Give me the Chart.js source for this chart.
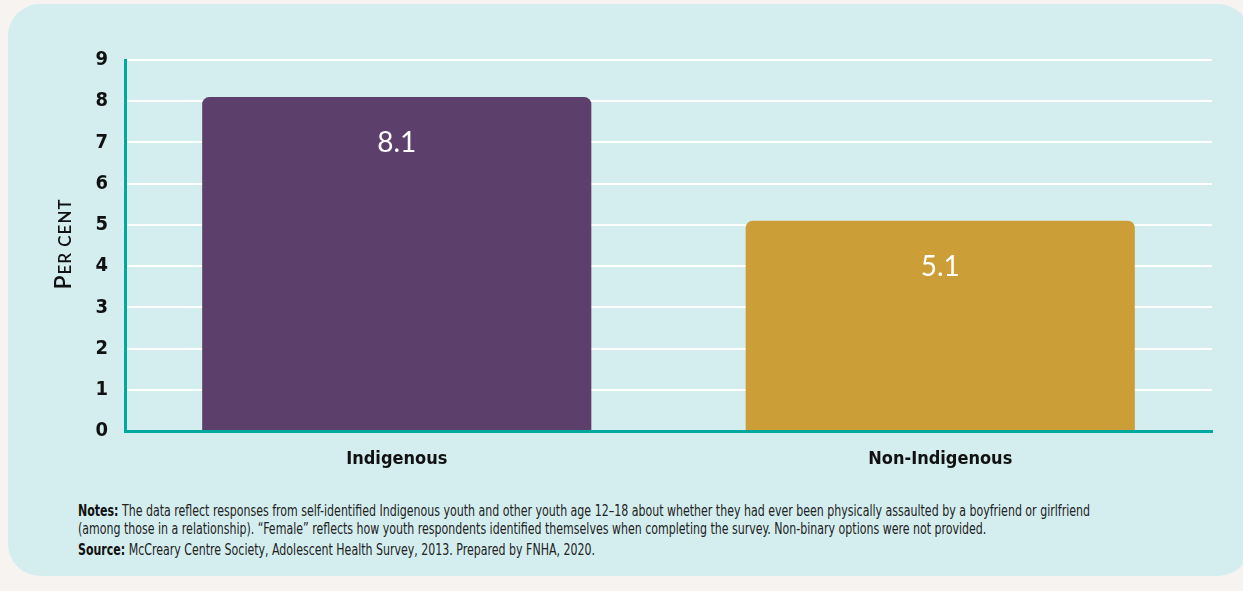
<!DOCTYPE html>
<html>
<head>
<meta charset="utf-8">
<script src="https://cdn.jsdelivr.net/npm/chart.js@4.4.1/dist/chart.umd.min.js"></script>
<style>
	html, body { margin: 0; padding: 0; }
	body { width: 1243px; height: 591px; background: #f7f3f0; position: relative; overflow: hidden; }
	.card { position: absolute; left: 8px; top: 4px; width: 1242px; height: 572px; background: #d4eeef; border-radius: 32px; }
	#chartBox { position: absolute; left: 0; top: 0; width: 1243px; height: 480px; }
	.notes { position: absolute; left: 78px; top: 502px; font-family: "DejaVu Sans Condensed", "Liberation Sans", sans-serif; font-size: 16px; line-height: 18px; color: #222; transform-origin: 0 0; white-space: nowrap; }
	.notes div { margin: 0; }
	.notes .src { margin-top: 3px; }
	.notes b { color: #111; }
</style>
</head>
<body>
<div class="card"></div>
<div id="chartBox"><canvas id="myBarChart" width="1243" height="480"></canvas></div>
<div class="notes" id="notes">
	<div id="line1"><b>Notes:</b> The data reflect responses from self-identified Indigenous youth and other youth age 12–18 about whether they had ever been physically assaulted by a boyfriend or girlfriend</div>
	<div>(among those in a relationship). “Female” reflects how youth respondents identified themselves when completing the survey. Non-binary options were not provided.</div>
	<div class="src"><b>Source:</b> McCreary Centre Society, Adolescent Health Survey, 2013. Prepared by FNHA, 2020.</div>
</div>
<script>
const categories = ['Indigenous', 'Non-Indigenous'];
const values = [8.1, 5.1];
const barColors = ['#5c406b', '#cc9e38'];
const yTicks = [0, 1, 2, 3, 4, 5, 6, 7, 8, 9];
const yTitle = 'Per cent';

const axisFont = "'DejaVu Sans Condensed', 'Liberation Sans', sans-serif";

// squeeze the notes so the first line ends where the reference's does
const notes = document.getElementById('notes');
const line1 = document.getElementById('line1');
const squeeze = 1012 / line1.getBoundingClientRect().width;
notes.style.transform = 'scaleX(' + squeeze + ')';

// draws the value inside each bar, near its top
const valueLabels = {
	id: 'valueLabels',
	afterDatasetsDraw(chart) {
		const ctx = chart.ctx;
		const meta = chart.getDatasetMeta(0);
		ctx.save();
		ctx.fillStyle = '#ffffff';
		ctx.font = "28px Lato, 'Open Sans', sans-serif";
		ctx.textAlign = 'center';
		ctx.textBaseline = 'middle';
		meta.data.forEach((bar, i) => {
			ctx.fillText(values[i].toFixed(1), bar.x, bar.y + 46);
		});
		ctx.restore();
	}
};

// y title in small caps, rotated
const smallCapsTitle = {
	id: 'smallCapsTitle',
	afterDraw(chart) {
		const ctx = chart.ctx;
		const big = "600 23px Lato, 'Open Sans', sans-serif";
		const small = "600 17px Lato, 'Open Sans', sans-serif";
		const parts = [];
		for (const ch of yTitle)
		{
			if (ch === ch.toUpperCase() && ch !== ' ')
				parts.push({ t: ch, f: big });
			else
				parts.push({ t: ch.toUpperCase(), f: small });
		}
		ctx.save();
		let total = 0;
		parts.forEach(p => { ctx.font = p.f; p.w = ctx.measureText(p.t).width + 1; total += p.w; });
		ctx.translate(71, 244);
		ctx.rotate(-Math.PI / 2);
		ctx.fillStyle = '#111111';
		ctx.textBaseline = 'alphabetic';
		ctx.textAlign = 'left';
		let x = -total / 2;
		parts.forEach(p => { ctx.font = p.f; ctx.fillText(p.t, x, 0); x += p.w; });
		ctx.restore();
	}
};

const ctx = document.getElementById('myBarChart').getContext('2d');
const myBarChart = new Chart(ctx, {
	type: 'bar',
	data: {
		labels: categories,
		datasets: [{
			data: values,
			backgroundColor: barColors,
			borderRadius: 7,
			borderSkipped: 'start',
			barPercentage: 0.716,
			categoryPercentage: 1
		}]
	},
	options: {
		responsive: false,
		animation: false,
		layout: { padding: { top: 60, right: 31, bottom: 0, left: 0 } },
		plugins: {
			legend: { display: false },
			tooltip: { enabled: false }
		},
		scales: {
			x: {
				grid: { display: false },
				border: { display: true, color: '#00a99d', width: 3 },
				ticks: {
					color: '#111111',
					padding: 10,
					font: { family: axisFont, size: 18, weight: 'bold' }
				},
				afterFit: (scale) => { scale.height = 49; }
			},
			y: {
				min: 0,
				max: 9,
				afterBuildTicks: (scale) => { scale.ticks = yTicks.map(v => ({ value: v })); },
				grid: { color: '#ffffff', lineWidth: 2, drawTicks: false },
				border: { display: true, color: '#00a99d', width: 3 },
				ticks: {
					color: '#111111',
					padding: 17,
					font: { family: axisFont, size: 20, weight: 'bold' }
				},
				afterFit: (scale) => { scale.width = 125; }
			}
		}
	},
	plugins: [valueLabels, smallCapsTitle]
});
</script>
</body>
</html>
